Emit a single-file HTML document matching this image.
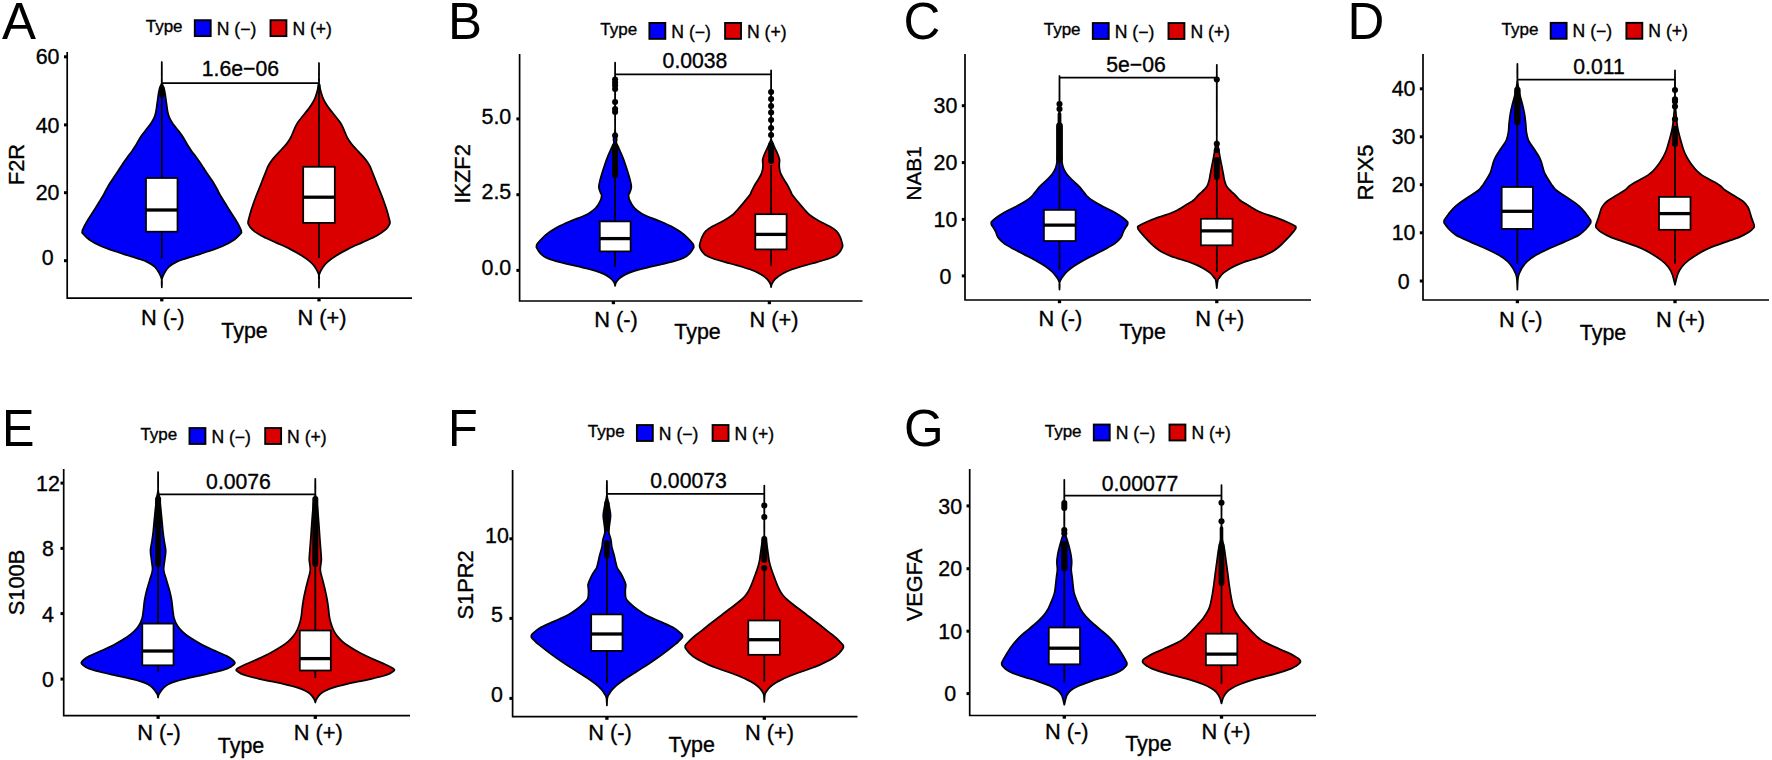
<!DOCTYPE html>
<html lang="en">
<head>
<meta charset="utf-8">
<title>Violin plots A-G</title>
<style>
html,body{margin:0;padding:0;background:#fff;}
body{width:1772px;height:760px;overflow:hidden;}
svg{display:block;font-family:"Liberation Sans", sans-serif;fill:#000;}
text{stroke:#000;stroke-width:0.35px;stroke-linejoin:round;}
</style>
</head>
<body>
<svg width="1772" height="760" viewBox="0 0 1772 760">
<rect x="0" y="0" width="1772" height="760" fill="#fff"/>
<g>
<text x="2" y="39" font-size="51" text-anchor="start" style="stroke-width:0">A</text>
<text x="145.7" y="32.35" font-size="17" text-anchor="start">Type</text>
<rect x="194.8" y="20.2" width="15.9" height="15.9" fill="#0000fa" stroke="#000" stroke-width="1.9"/>
<text x="216.7" y="34.75" font-size="17.6" text-anchor="start">N (−)</text>
<rect x="270.5" y="20.2" width="15.9" height="15.9" fill="#db0000" stroke="#000" stroke-width="1.9"/>
<text x="292.4" y="34.75" font-size="17.6" text-anchor="start">N (+)</text>
<path d="M161.8 62C161.81 64.17 161.84 71.5 161.85 75C161.86 78.5 161.51 80.83 161.85 83C162.19 85.17 163.35 86.23 163.88 88C164.42 89.77 164.65 91.12 165.06 93.6C165.47 96.08 165.92 99.8 166.37 102.9C166.82 106 167.23 109.72 167.75 112.2C168.27 114.68 168.68 115.93 169.51 117.8C170.34 119.67 171.48 121.53 172.73 123.4C173.98 125.27 175.59 127.13 177.01 129C178.43 130.87 179.96 132.73 181.27 134.6C182.59 136.47 183.76 138.33 184.9 140.2C186.04 142.07 186.94 143.93 188.1 145.8C189.26 147.67 190.51 149.55 191.84 151.4C193.17 153.25 194.7 155.05 196.06 156.9C197.42 158.75 198.74 160.63 200 162.5C201.26 164.37 202.41 166.23 203.63 168.1C204.85 169.97 205.62 171.18 207.3 173.7C208.98 176.22 212.06 180.57 213.72 183.2C215.39 185.83 216.1 187.32 217.29 189.5C218.49 191.68 218.93 192.97 220.89 196.3C222.85 199.63 226.3 205.12 229.05 209.5C231.8 213.88 235.39 219.15 237.4 222.6C239.41 226.05 240.45 228.67 241.09 230.2C241.72 231.73 241.23 231.27 241.2 231.8C241.17 232.33 242.07 232.08 240.92 233.4C239.76 234.72 237.38 237.55 234.28 239.7C231.18 241.85 226.2 244.5 222.33 246.3C218.46 248.1 215.51 248.97 211.04 250.5C206.57 252.03 199.75 254.15 195.5 255.5C191.25 256.85 188.78 257.5 185.54 258.6C182.3 259.7 178.87 260.73 176.08 262.1C173.29 263.47 170.76 264.98 168.81 266.8C166.86 268.62 165.55 270.88 164.39 273C163.23 275.12 162.28 277.12 161.85 279.5C161.42 281.88 161.81 286 161.8 287.3C161.79 286 162.18 281.88 161.75 279.5C161.32 277.12 160.37 275.12 159.21 273C158.05 270.88 156.74 268.62 154.79 266.8C152.84 264.98 150.31 263.47 147.52 262.1C144.73 260.73 141.3 259.7 138.06 258.6C134.82 257.5 132.35 256.85 128.1 255.5C123.85 254.15 117.03 252.03 112.56 250.5C108.09 248.97 105.14 248.1 101.27 246.3C97.4 244.5 92.42 241.85 89.32 239.7C86.22 237.55 83.84 234.72 82.68 233.4C81.53 232.08 82.43 232.33 82.4 231.8C82.37 231.27 81.88 231.73 82.51 230.2C83.15 228.67 84.19 226.05 86.2 222.6C88.21 219.15 91.8 213.88 94.55 209.5C97.3 205.12 100.75 199.63 102.71 196.3C104.67 192.97 105.12 191.68 106.31 189.5C107.5 187.32 108.22 185.83 109.88 183.2C111.55 180.57 114.62 176.22 116.3 173.7C117.98 171.18 118.75 169.97 119.97 168.1C121.19 166.23 122.34 164.37 123.6 162.5C124.86 160.63 126.18 158.75 127.54 156.9C128.9 155.05 130.43 153.25 131.76 151.4C133.09 149.55 134.34 147.67 135.5 145.8C136.66 143.93 137.56 142.07 138.7 140.2C139.84 138.33 141.02 136.47 142.33 134.6C143.65 132.73 145.17 130.87 146.59 129C148.01 127.13 149.62 125.27 150.87 123.4C152.12 121.53 153.26 119.67 154.09 117.8C154.92 115.93 155.33 114.68 155.85 112.2C156.37 109.72 156.78 106 157.23 102.9C157.68 99.8 158.13 96.08 158.54 93.6C158.96 91.12 159.19 89.77 159.72 88C160.25 86.23 161.41 85.17 161.75 83C162.09 80.83 161.74 78.5 161.75 75C161.76 71.5 161.79 64.17 161.8 62Z" fill="#0000fa" stroke="#000" stroke-width="1.75" stroke-linejoin="round"/>
<line x1="161.8" y1="84" x2="161.8" y2="258.4" stroke="#000" stroke-width="1.75"/>
<line x1="161.8" y1="88" x2="161.8" y2="95" stroke="#000" stroke-width="5" stroke-linecap="round"/>
<rect x="146" y="178" width="31.5" height="53.7" fill="#fff" stroke="#000" stroke-width="1.75"/>
<line x1="146" y1="210" x2="177.5" y2="210" stroke="#000" stroke-width="3.3"/>
<path d="M319 63C319.01 65 319.04 71.67 319.05 75C319.06 78.33 318.66 79.9 319.05 83C319.44 86.1 320.69 90.9 321.42 93.6C322.15 96.3 322.55 97.33 323.41 99.2C324.27 101.07 325.38 102.93 326.58 104.8C327.78 106.67 329.19 108.53 330.63 110.4C332.07 112.27 333.71 114.13 335.2 116C336.69 117.87 338.3 119.75 339.56 121.6C340.82 123.45 341.84 125.25 342.77 127.1C343.7 128.95 344.31 130.83 345.12 132.7C345.93 134.57 346.58 136.43 347.63 138.3C348.68 140.17 349.94 142.03 351.42 143.9C352.9 145.77 354.78 147.63 356.51 149.5C358.24 151.37 360.11 153.23 361.78 155.1C363.45 156.97 365.16 158.85 366.52 160.7C367.88 162.55 369.09 164.65 369.92 166.2C370.75 167.75 370.38 167.17 371.51 170C372.64 172.83 374.97 178.82 376.71 183.2C378.45 187.58 380.32 191.92 381.97 196.3C383.62 200.68 385.33 205.38 386.63 209.5C387.93 213.62 389.22 218.82 389.75 221C390.28 223.18 389.83 222.07 389.8 222.6C389.77 223.13 390.19 223.1 389.58 224.2C388.97 225.3 388.29 227.27 386.14 229.2C383.99 231.13 380.65 233.6 376.7 235.8C372.75 238 367.17 240.22 362.44 242.4C357.71 244.58 352.67 246.72 348.34 248.9C344.01 251.08 339.96 253.3 336.47 255.5C332.98 257.7 329.67 260.12 327.38 262.1C325.09 264.08 324.13 265.25 322.74 267.4C321.35 269.55 319.67 272.73 319.05 275C318.44 277.27 319.06 278.92 319.05 281C319.04 283.08 319.01 286.42 319 287.5C318.99 286.42 318.96 283.08 318.95 281C318.94 278.92 319.56 277.27 318.95 275C318.33 272.73 316.65 269.55 315.26 267.4C313.87 265.25 312.91 264.08 310.62 262.1C308.33 260.12 305.02 257.7 301.53 255.5C298.04 253.3 293.99 251.08 289.66 248.9C285.33 246.72 280.29 244.58 275.56 242.4C270.83 240.22 265.25 238 261.3 235.8C257.35 233.6 254.01 231.13 251.86 229.2C249.71 227.27 249.03 225.3 248.42 224.2C247.81 223.1 248.23 223.13 248.2 222.6C248.17 222.07 247.72 223.18 248.25 221C248.78 218.82 250.07 213.62 251.37 209.5C252.67 205.38 254.38 200.68 256.03 196.3C257.68 191.92 259.55 187.58 261.29 183.2C263.03 178.82 265.36 172.83 266.49 170C267.62 167.17 267.25 167.75 268.08 166.2C268.91 164.65 270.12 162.55 271.48 160.7C272.84 158.85 274.55 156.97 276.22 155.1C277.89 153.23 279.76 151.37 281.49 149.5C283.22 147.63 285.1 145.77 286.58 143.9C288.06 142.03 289.32 140.17 290.37 138.3C291.42 136.43 292.07 134.57 292.88 132.7C293.69 130.83 294.3 128.95 295.23 127.1C296.16 125.25 297.18 123.45 298.44 121.6C299.7 119.75 301.31 117.87 302.8 116C304.29 114.13 305.93 112.27 307.37 110.4C308.81 108.53 310.22 106.67 311.42 104.8C312.62 102.93 313.73 101.07 314.59 99.2C315.45 97.33 315.85 96.3 316.58 93.6C317.31 90.9 318.56 86.1 318.95 83C319.34 79.9 318.94 78.33 318.95 75C318.96 71.67 318.99 65 319 63Z" fill="#db0000" stroke="#000" stroke-width="1.75" stroke-linejoin="round"/>
<line x1="319" y1="84" x2="319" y2="258" stroke="#000" stroke-width="1.75"/>
<line x1="319" y1="85" x2="319" y2="88" stroke="#000" stroke-width="3" stroke-linecap="round"/>
<rect x="303.2" y="166.8" width="31.6" height="56.1" fill="#fff" stroke="#000" stroke-width="1.75"/>
<line x1="303.2" y1="197.2" x2="334.8" y2="197.2" stroke="#000" stroke-width="3.3"/>
<line x1="161.8" y1="83" x2="319" y2="83" stroke="#000" stroke-width="1.75"/>
<text x="240.4" y="75.5" font-size="21.2" text-anchor="middle">1.6e−06</text>
<path d="M67.2 52V298.2H412" fill="none" stroke="#000" stroke-width="1.7" stroke-linejoin="miter"/>
<line x1="64" y1="56.8" x2="67.2" y2="56.8" stroke="#000" stroke-width="3.0"/>
<text x="47.6" y="64.4" font-size="21.4" text-anchor="middle">60</text>
<line x1="64" y1="124.9" x2="67.2" y2="124.9" stroke="#000" stroke-width="3.0"/>
<text x="47.6" y="132.5" font-size="21.4" text-anchor="middle">40</text>
<line x1="64" y1="192.7" x2="67.2" y2="192.7" stroke="#000" stroke-width="3.0"/>
<text x="47.6" y="200.3" font-size="21.4" text-anchor="middle">20</text>
<line x1="64" y1="260.7" x2="67.2" y2="260.7" stroke="#000" stroke-width="3.0"/>
<text x="47.6" y="265.4" font-size="21.4" text-anchor="middle">0</text>
<line x1="161.8" y1="298.2" x2="161.8" y2="301.4" stroke="#000" stroke-width="3.3"/>
<text x="162.7" y="325.1" font-size="21.8" text-anchor="middle">N (-)</text>
<line x1="319" y1="298.2" x2="319" y2="301.4" stroke="#000" stroke-width="3.3"/>
<text x="322" y="325.1" font-size="21.8" text-anchor="middle">N (+)</text>
<text x="244.5" y="338" font-size="21.4" text-anchor="middle">Type</text>
<text transform="translate(24.1 164.5) rotate(-90)" font-size="21.8" text-anchor="middle">F2R</text>
</g>
<g>
<text x="448" y="39" font-size="51" text-anchor="start" style="stroke-width:0">B</text>
<text x="600.3" y="35.1" font-size="17" text-anchor="start">Type</text>
<rect x="649.4" y="22.95" width="15.9" height="15.9" fill="#0000fa" stroke="#000" stroke-width="1.9"/>
<text x="671.3" y="37.5" font-size="17.6" text-anchor="start">N (−)</text>
<rect x="725.1" y="22.95" width="15.9" height="15.9" fill="#db0000" stroke="#000" stroke-width="1.9"/>
<text x="747" y="37.5" font-size="17.6" text-anchor="start">N (+)</text>
<path d="M615.1 62.5C615.11 68.75 615.14 88.75 615.15 100C615.16 111.25 614.91 123.53 615.15 130C615.39 136.47 616.41 136.67 616.6 138.8C616.79 140.93 616.05 141.5 616.3 142.8C616.55 144.1 617.11 144.42 618.09 146.6C619.07 148.78 620.93 152.8 622.18 155.9C623.43 159 624.53 162.1 625.59 165.2C626.65 168.3 627.71 171.72 628.54 174.5C629.37 177.28 630.09 179.73 630.55 181.9C631.01 184.07 631.47 185.63 631.3 187.5C631.13 189.37 630.01 191.85 629.54 193.1C629.07 194.35 628.47 193.8 628.5 195C628.53 196.2 628.7 198.1 629.7 200.3C630.7 202.5 632.56 206.02 634.52 208.2C636.48 210.38 639.13 211.98 641.43 213.4C643.73 214.82 645.22 215.38 648.32 216.7C651.42 218.02 655.9 219.55 660.01 221.3C664.12 223.05 669.61 225.45 672.99 227.2C676.37 228.95 677.99 230.15 680.29 231.8C682.59 233.45 684.89 235.33 686.79 237.1C688.69 238.87 690.58 241.13 691.68 242.4C692.78 243.67 693.02 244.05 693.36 244.7C693.7 245.35 693.68 245.77 693.7 246.3C693.72 246.83 694.07 246.8 693.5 247.9C692.92 249 691.41 251.52 690.25 252.9C689.09 254.28 688.26 255.1 686.51 256.2C684.75 257.3 681.87 258.63 679.72 259.5C677.57 260.37 676.88 260.53 673.62 261.4C670.36 262.27 664.38 263.7 660.14 264.7C655.9 265.7 652.28 266.4 648.16 267.4C644.04 268.4 639.28 269.5 635.43 270.7C631.59 271.9 627.8 273.28 625.09 274.6C622.38 275.92 620.69 277.28 619.17 278.6C617.66 279.92 616.68 281.3 616 282.5C615.32 283.7 615.25 285.25 615.1 285.8C614.95 285.25 614.88 283.7 614.2 282.5C613.52 281.3 612.54 279.92 611.03 278.6C609.51 277.28 607.82 275.92 605.11 274.6C602.4 273.28 598.62 271.9 594.77 270.7C590.92 269.5 586.16 268.4 582.04 267.4C577.92 266.4 574.3 265.7 570.06 264.7C565.82 263.7 559.84 262.27 556.58 261.4C553.32 260.53 552.63 260.37 550.48 259.5C548.33 258.63 545.45 257.3 543.69 256.2C541.94 255.1 541.11 254.28 539.95 252.9C538.79 251.52 537.28 249 536.7 247.9C536.13 246.8 536.48 246.83 536.5 246.3C536.52 245.77 536.5 245.35 536.84 244.7C537.18 244.05 537.42 243.67 538.52 242.4C539.62 241.13 541.51 238.87 543.41 237.1C545.31 235.33 547.61 233.45 549.91 231.8C552.21 230.15 553.83 228.95 557.21 227.2C560.59 225.45 566.08 223.05 570.19 221.3C574.3 219.55 578.78 218.02 581.88 216.7C584.98 215.38 586.47 214.82 588.77 213.4C591.07 211.98 593.73 210.38 595.68 208.2C597.64 206.02 599.5 202.5 600.5 200.3C601.5 198.1 601.67 196.2 601.7 195C601.73 193.8 601.13 194.35 600.66 193.1C600.19 191.85 599.07 189.37 598.9 187.5C598.73 185.63 599.19 184.07 599.65 181.9C600.11 179.73 600.83 177.28 601.66 174.5C602.49 171.72 603.55 168.3 604.61 165.2C605.67 162.1 606.77 159 608.02 155.9C609.27 152.8 611.13 148.78 612.11 146.6C613.09 144.42 613.65 144.1 613.9 142.8C614.15 141.5 613.41 140.93 613.6 138.8C613.79 136.67 614.81 136.47 615.05 130C615.29 123.53 615.04 111.25 615.05 100C615.06 88.75 615.09 68.75 615.1 62.5Z" fill="#0000fa" stroke="#000" stroke-width="1.75" stroke-linejoin="round"/>
<line x1="615.1" y1="177" x2="615.1" y2="266.7" stroke="#000" stroke-width="1.75"/>
<circle cx="615.1" cy="79.6" r="3.05" fill="#000"/>
<circle cx="615.1" cy="82.5" r="3.05" fill="#000"/>
<circle cx="615.1" cy="85.5" r="3.05" fill="#000"/>
<circle cx="615.1" cy="89" r="3.05" fill="#000"/>
<circle cx="615.1" cy="102" r="3.05" fill="#000"/>
<circle cx="615.1" cy="109" r="3.05" fill="#000"/>
<circle cx="615.1" cy="112" r="3.05" fill="#000"/>
<circle cx="615.1" cy="135.5" r="3.05" fill="#000"/>
<line x1="615.1" y1="146" x2="615.1" y2="175" stroke="#000" stroke-width="6" stroke-linecap="round"/>
<rect x="599.8" y="221.4" width="30.8" height="30" fill="#fff" stroke="#000" stroke-width="1.75"/>
<line x1="599.8" y1="238.6" x2="630.6" y2="238.6" stroke="#000" stroke-width="3.3"/>
<path d="M771.1 70.4C771.11 75.33 771.14 90.07 771.15 100C771.16 109.93 771.15 123.53 771.15 130C771.15 136.47 770.9 136.67 771.15 138.8C771.4 140.93 771.99 141.2 772.63 142.8C773.27 144.4 774.19 146.53 775.02 148.4C775.85 150.27 776.88 152.13 777.63 154C778.38 155.87 779.24 157.73 779.5 159.6C779.76 161.47 779.14 163.33 779.2 165.2C779.26 167.07 779.52 169.25 779.84 170.8C780.16 172.35 780.42 172.97 781.15 174.5C781.88 176.03 783.12 178.13 784.23 180C785.34 181.87 786.74 183.83 787.8 185.7C788.86 187.57 789.84 189.65 790.6 191.2C791.36 192.75 791.19 193.27 792.38 195C793.57 196.73 795.72 199.18 797.74 201.6C799.76 204.02 802.53 207.32 804.48 209.5C806.43 211.68 807.1 212.83 809.46 214.7C811.82 216.57 815.2 218.72 818.62 220.7C822.04 222.68 827.01 224.85 829.99 226.6C832.97 228.35 834.79 229.45 836.5 231.2C838.21 232.95 839.25 234.95 840.24 237.1C841.23 239.25 842.05 242.67 842.42 244.1C842.8 245.53 842.52 245.17 842.5 245.7C842.48 246.23 842.72 246.32 842.33 247.3C841.93 248.28 841.07 250.33 840.14 251.6C839.21 252.87 838.49 253.8 836.77 254.9C835.05 256 833.07 257 829.81 258.2C826.56 259.4 821.37 260.9 817.24 262.1C813.12 263.3 809.2 264.2 805.06 265.4C800.92 266.6 796.26 267.88 792.42 269.3C788.58 270.72 784.91 272.25 782.02 273.9C779.13 275.55 776.77 277.55 775.08 279.2C773.39 280.85 772.56 282.48 771.9 283.8C771.24 285.12 771.23 286.55 771.1 287.1C770.97 286.55 770.96 285.12 770.3 283.8C769.64 282.48 768.81 280.85 767.12 279.2C765.43 277.55 763.07 275.55 760.18 273.9C757.29 272.25 753.62 270.72 749.78 269.3C745.94 267.88 741.28 266.6 737.14 265.4C733 264.2 729.09 263.3 724.96 262.1C720.84 260.9 715.64 259.4 712.39 258.2C709.13 257 707.15 256 705.43 254.9C703.71 253.8 702.99 252.87 702.06 251.6C701.13 250.33 700.27 248.28 699.87 247.3C699.48 246.32 699.72 246.23 699.7 245.7C699.68 245.17 699.4 245.53 699.78 244.1C700.15 242.67 700.97 239.25 701.96 237.1C702.95 234.95 703.99 232.95 705.7 231.2C707.41 229.45 709.23 228.35 712.21 226.6C715.19 224.85 720.16 222.68 723.58 220.7C727 218.72 730.38 216.57 732.74 214.7C735.1 212.83 735.77 211.68 737.72 209.5C739.67 207.32 742.44 204.02 744.46 201.6C746.48 199.18 748.63 196.73 749.82 195C751.01 193.27 750.84 192.75 751.6 191.2C752.36 189.65 753.34 187.57 754.4 185.7C755.46 183.83 756.86 181.87 757.97 180C759.08 178.13 760.32 176.03 761.05 174.5C761.78 172.97 762.04 172.35 762.36 170.8C762.68 169.25 762.94 167.07 763 165.2C763.06 163.33 762.44 161.47 762.7 159.6C762.96 157.73 763.82 155.87 764.57 154C765.32 152.13 766.35 150.27 767.18 148.4C768.01 146.53 768.93 144.4 769.57 142.8C770.22 141.2 770.8 140.93 771.05 138.8C771.3 136.67 771.05 136.47 771.05 130C771.05 123.53 771.04 109.93 771.05 100C771.06 90.07 771.09 75.33 771.1 70.4Z" fill="#db0000" stroke="#000" stroke-width="1.75" stroke-linejoin="round"/>
<line x1="771.1" y1="165" x2="771.1" y2="265.8" stroke="#000" stroke-width="1.75"/>
<circle cx="771.1" cy="92" r="3.05" fill="#000"/>
<circle cx="771.1" cy="99" r="3.05" fill="#000"/>
<circle cx="771.1" cy="106" r="3.05" fill="#000"/>
<circle cx="771.1" cy="112.5" r="3.05" fill="#000"/>
<circle cx="771.1" cy="120" r="3.05" fill="#000"/>
<circle cx="771.1" cy="128" r="3.05" fill="#000"/>
<circle cx="771.1" cy="135" r="3.05" fill="#000"/>
<line x1="771.1" y1="145" x2="771.1" y2="161" stroke="#000" stroke-width="6" stroke-linecap="round"/>
<rect x="755.3" y="214.2" width="31.3" height="35.2" fill="#fff" stroke="#000" stroke-width="1.75"/>
<line x1="755.3" y1="234.4" x2="786.6" y2="234.4" stroke="#000" stroke-width="3.3"/>
<line x1="615.1" y1="74.3" x2="771.1" y2="74.3" stroke="#000" stroke-width="1.75"/>
<text x="695" y="68.3" font-size="21.2" text-anchor="middle">0.0038</text>
<path d="M519.6 54V301H862.5" fill="none" stroke="#000" stroke-width="1.7" stroke-linejoin="miter"/>
<line x1="516.4" y1="118.9" x2="519.6" y2="118.9" stroke="#000" stroke-width="3.0"/>
<text x="496.4" y="123.5" font-size="21.4" text-anchor="middle">5.0</text>
<line x1="516.4" y1="194.7" x2="519.6" y2="194.7" stroke="#000" stroke-width="3.0"/>
<text x="496.4" y="199.3" font-size="21.4" text-anchor="middle">2.5</text>
<line x1="516.4" y1="270.4" x2="519.6" y2="270.4" stroke="#000" stroke-width="3.0"/>
<text x="496.4" y="275" font-size="21.4" text-anchor="middle">0.0</text>
<line x1="613.4" y1="301" x2="613.4" y2="304.2" stroke="#000" stroke-width="3.3"/>
<text x="616" y="327" font-size="21.8" text-anchor="middle">N (-)</text>
<line x1="769.4" y1="301" x2="769.4" y2="304.2" stroke="#000" stroke-width="3.3"/>
<text x="774.1" y="327" font-size="21.8" text-anchor="middle">N (+)</text>
<text x="697.5" y="339.2" font-size="21.4" text-anchor="middle">Type</text>
<text transform="translate(470.2 173.9) rotate(-90)" font-size="21.8" text-anchor="middle">IKZF2</text>
</g>
<g>
<text x="903.6" y="39" font-size="51" text-anchor="start" style="stroke-width:0">C</text>
<text x="1043.7" y="35.2" font-size="17" text-anchor="start">Type</text>
<rect x="1092.8" y="23.05" width="15.9" height="15.9" fill="#0000fa" stroke="#000" stroke-width="1.9"/>
<text x="1114.7" y="37.6" font-size="17.6" text-anchor="start">N (−)</text>
<rect x="1168.5" y="23.05" width="15.9" height="15.9" fill="#db0000" stroke="#000" stroke-width="1.9"/>
<text x="1190.4" y="37.6" font-size="17.6" text-anchor="start">N (+)</text>
<path d="M1059.5 76C1059.51 80 1059.54 91 1059.55 100C1059.56 109 1059.24 120.83 1059.55 130C1059.86 139.17 1060.98 149.45 1061.42 155C1061.87 160.55 1061.83 160.98 1062.22 163.3C1062.61 165.62 1062.94 167.03 1063.75 168.9C1064.56 170.77 1065.66 172.65 1067.09 174.5C1068.52 176.35 1070.46 178.13 1072.33 180C1074.2 181.87 1076.53 183.83 1078.33 185.7C1080.13 187.57 1081.66 189.48 1083.11 191.2C1084.55 192.92 1085.43 194.43 1087 196C1088.57 197.57 1089.97 198.9 1092.54 200.6C1095.11 202.3 1098.92 204.33 1102.42 206.2C1105.92 208.07 1110.24 209.95 1113.53 211.8C1116.82 213.65 1119.87 215.65 1122.17 217.3C1124.47 218.95 1126.39 220.7 1127.31 221.7C1128.23 222.7 1127.68 222.77 1127.7 223.3C1127.72 223.83 1127.89 224.03 1127.45 224.9C1127 225.77 1125.74 227.28 1125.02 228.5C1124.3 229.72 1123.86 230.65 1123.14 232.2C1122.43 233.75 1122.08 235.93 1120.73 237.8C1119.38 239.67 1117.57 241.53 1115.03 243.4C1112.49 245.27 1108.93 247.13 1105.52 249C1102.11 250.87 1098.2 252.73 1094.58 254.6C1090.96 256.47 1087.17 258.33 1083.82 260.2C1080.47 262.07 1077.27 263.93 1074.5 265.8C1071.73 267.67 1069.21 269.55 1067.21 271.4C1065.21 273.25 1063.77 275.05 1062.49 276.9C1061.21 278.75 1060.05 280.38 1059.55 282.5C1059.05 284.62 1059.51 288.42 1059.5 289.6C1059.49 288.42 1059.95 284.62 1059.45 282.5C1058.95 280.38 1057.79 278.75 1056.51 276.9C1055.23 275.05 1053.79 273.25 1051.79 271.4C1049.79 269.55 1047.27 267.67 1044.5 265.8C1041.73 263.93 1038.53 262.07 1035.18 260.2C1031.83 258.33 1028.04 256.47 1024.42 254.6C1020.8 252.73 1016.89 250.87 1013.48 249C1010.07 247.13 1006.5 245.27 1003.97 243.4C1001.44 241.53 999.62 239.67 998.27 237.8C996.92 235.93 996.58 233.75 995.86 232.2C995.14 230.65 994.7 229.72 993.98 228.5C993.26 227.28 992 225.77 991.55 224.9C991.11 224.03 991.28 223.83 991.3 223.3C991.32 222.77 990.77 222.7 991.69 221.7C992.61 220.7 994.53 218.95 996.83 217.3C999.13 215.65 1002.18 213.65 1005.47 211.8C1008.76 209.95 1013.08 208.07 1016.58 206.2C1020.08 204.33 1023.89 202.3 1026.46 200.6C1029.03 198.9 1030.43 197.57 1032 196C1033.57 194.43 1034.45 192.92 1035.89 191.2C1037.34 189.48 1038.87 187.57 1040.67 185.7C1042.47 183.83 1044.8 181.87 1046.67 180C1048.54 178.13 1050.48 176.35 1051.91 174.5C1053.34 172.65 1054.44 170.77 1055.25 168.9C1056.06 167.03 1056.39 165.62 1056.78 163.3C1057.17 160.98 1057.13 160.55 1057.58 155C1058.02 149.45 1059.14 139.17 1059.45 130C1059.76 120.83 1059.44 109 1059.45 100C1059.46 91 1059.49 80 1059.5 76Z" fill="#0000fa" stroke="#000" stroke-width="1.75" stroke-linejoin="round"/>
<line x1="1059.5" y1="160" x2="1059.5" y2="270.4" stroke="#000" stroke-width="1.75"/>
<circle cx="1059.5" cy="104" r="3.05" fill="#000"/>
<circle cx="1059.5" cy="109" r="3.05" fill="#000"/>
<line x1="1059.5" y1="114" x2="1059.5" y2="126" stroke="#000" stroke-width="3.8" stroke-linecap="round"/>
<line x1="1059.5" y1="126" x2="1059.5" y2="159" stroke="#000" stroke-width="6.8" stroke-linecap="round"/>
<rect x="1043.9" y="209.9" width="31.7" height="31.1" fill="#fff" stroke="#000" stroke-width="1.75"/>
<line x1="1043.9" y1="225.2" x2="1075.6" y2="225.2" stroke="#000" stroke-width="3.3"/>
<path d="M1216.8 64.8C1216.81 70.67 1216.84 87.47 1216.85 100C1216.86 112.53 1216.63 132.23 1216.85 140C1217.07 147.77 1217.68 143.95 1218.16 146.6C1218.64 149.25 1219.18 152.8 1219.75 155.9C1220.32 159 1220.97 162.1 1221.58 165.2C1222.18 168.3 1222.91 172.03 1223.38 174.5C1223.84 176.97 1223.89 178.13 1224.37 180C1224.85 181.87 1225.48 184.13 1226.27 185.7C1227.06 187.27 1227.96 188.17 1229.11 189.4C1230.26 190.63 1231.9 191.87 1233.19 193.1C1234.48 194.33 1235.78 195.65 1236.86 196.8C1237.94 197.95 1238.73 199.13 1239.69 200C1240.65 200.87 1241.07 201.02 1242.65 202C1244.23 202.98 1246.81 204.48 1249.16 205.9C1251.51 207.32 1254.43 209.28 1256.76 210.5C1259.09 211.72 1259.98 212.05 1263.11 213.2C1266.24 214.35 1271.52 215.93 1275.52 217.4C1279.52 218.87 1283.84 220.57 1287.1 222C1290.36 223.43 1293.64 225.07 1295.09 226C1296.54 226.93 1295.74 227.07 1295.8 227.6C1295.86 228.13 1295.81 228.53 1295.44 229.2C1295.07 229.87 1294.65 230.33 1293.58 231.6C1292.51 232.87 1290.96 234.73 1289.04 236.8C1287.12 238.87 1284.41 241.8 1282.06 244C1279.7 246.2 1277.06 248.45 1274.91 250C1272.76 251.55 1271.35 252.2 1269.14 253.3C1266.93 254.4 1263.78 255.77 1261.66 256.6C1259.53 257.43 1258.45 257.65 1256.39 258.3C1254.33 258.95 1251.51 259.8 1249.32 260.5C1247.12 261.2 1245.34 261.73 1243.22 262.5C1241.1 263.27 1238.81 264.12 1236.62 265.1C1234.43 266.08 1232.21 267.13 1230.08 268.4C1227.95 269.67 1225.62 271.17 1223.84 272.7C1222.06 274.23 1220.42 276.33 1219.41 277.6C1218.4 278.87 1218.23 278.53 1217.8 280.3C1217.37 282.07 1216.97 286.88 1216.8 288.2C1216.63 286.88 1216.23 282.07 1215.8 280.3C1215.37 278.53 1215.2 278.87 1214.19 277.6C1213.18 276.33 1211.54 274.23 1209.76 272.7C1207.98 271.17 1205.65 269.67 1203.52 268.4C1201.39 267.13 1199.17 266.08 1196.98 265.1C1194.79 264.12 1192.5 263.27 1190.38 262.5C1188.26 261.73 1186.47 261.2 1184.28 260.5C1182.09 259.8 1179.27 258.95 1177.21 258.3C1175.15 257.65 1174.07 257.43 1171.94 256.6C1169.82 255.77 1166.67 254.4 1164.46 253.3C1162.25 252.2 1160.84 251.55 1158.69 250C1156.54 248.45 1153.89 246.2 1151.54 244C1149.18 241.8 1146.48 238.87 1144.56 236.8C1142.64 234.73 1141.09 232.87 1140.02 231.6C1138.95 230.33 1138.53 229.87 1138.16 229.2C1137.79 228.53 1137.74 228.13 1137.8 227.6C1137.86 227.07 1137.06 226.93 1138.51 226C1139.96 225.07 1143.24 223.43 1146.5 222C1149.76 220.57 1154.08 218.87 1158.08 217.4C1162.08 215.93 1167.36 214.35 1170.49 213.2C1173.62 212.05 1174.51 211.72 1176.84 210.5C1179.16 209.28 1182.09 207.32 1184.44 205.9C1186.79 204.48 1189.37 202.98 1190.95 202C1192.53 201.02 1192.94 200.87 1193.91 200C1194.87 199.13 1195.66 197.95 1196.74 196.8C1197.82 195.65 1199.12 194.33 1200.41 193.1C1201.7 191.87 1203.34 190.63 1204.49 189.4C1205.64 188.17 1206.54 187.27 1207.33 185.7C1208.12 184.13 1208.75 181.87 1209.23 180C1209.71 178.13 1209.76 176.97 1210.22 174.5C1210.68 172.03 1211.41 168.3 1212.02 165.2C1212.62 162.1 1213.28 159 1213.85 155.9C1214.42 152.8 1214.96 149.25 1215.44 146.6C1215.92 143.95 1216.53 147.77 1216.75 140C1216.97 132.23 1216.74 112.53 1216.75 100C1216.76 87.47 1216.79 70.67 1216.8 64.8Z" fill="#db0000" stroke="#000" stroke-width="1.75" stroke-linejoin="round"/>
<line x1="1216.8" y1="175" x2="1216.8" y2="272" stroke="#000" stroke-width="1.75"/>
<circle cx="1216.8" cy="79.6" r="3.05" fill="#000"/>
<circle cx="1216.8" cy="143.8" r="3.05" fill="#000"/>
<circle cx="1216.8" cy="150.3" r="3.05" fill="#000"/>
<line x1="1216.8" y1="160" x2="1216.8" y2="177" stroke="#000" stroke-width="6" stroke-linecap="round"/>
<rect x="1200.9" y="218.8" width="31.6" height="26.5" fill="#fff" stroke="#000" stroke-width="1.75"/>
<line x1="1200.9" y1="230.8" x2="1232.5" y2="230.8" stroke="#000" stroke-width="3.3"/>
<line x1="1059.5" y1="77.5" x2="1216.8" y2="77.5" stroke="#000" stroke-width="1.75"/>
<text x="1136" y="72.4" font-size="21.2" text-anchor="middle">5e−06</text>
<path d="M965 54V300H1311" fill="none" stroke="#000" stroke-width="1.7" stroke-linejoin="miter"/>
<line x1="961.8" y1="105.7" x2="965" y2="105.7" stroke="#000" stroke-width="3.0"/>
<text x="945.5" y="113.3" font-size="21.4" text-anchor="middle">30</text>
<line x1="961.8" y1="162.6" x2="965" y2="162.6" stroke="#000" stroke-width="3.0"/>
<text x="945.5" y="170.2" font-size="21.4" text-anchor="middle">20</text>
<line x1="961.8" y1="219.4" x2="965" y2="219.4" stroke="#000" stroke-width="3.0"/>
<text x="945.5" y="227" font-size="21.4" text-anchor="middle">10</text>
<line x1="961.8" y1="275.9" x2="965" y2="275.9" stroke="#000" stroke-width="3.0"/>
<text x="945.5" y="283.5" font-size="21.4" text-anchor="middle">0</text>
<line x1="1059.5" y1="300" x2="1059.5" y2="303.2" stroke="#000" stroke-width="3.3"/>
<text x="1060.4" y="325.6" font-size="21.8" text-anchor="middle">N (-)</text>
<line x1="1216.8" y1="300" x2="1216.8" y2="303.2" stroke="#000" stroke-width="3.3"/>
<text x="1219.8" y="325.6" font-size="21.8" text-anchor="middle">N (+)</text>
<text x="1142.7" y="338.7" font-size="21.4" text-anchor="middle">Type</text>
<text transform="translate(921.2 173.4) rotate(-90)" font-size="20.8" text-anchor="middle">NAB1</text>
</g>
<g>
<text x="1347.4" y="39" font-size="51" text-anchor="start" style="stroke-width:0">D</text>
<text x="1501.6" y="35" font-size="17" text-anchor="start">Type</text>
<rect x="1550.7" y="22.85" width="15.9" height="15.9" fill="#0000fa" stroke="#000" stroke-width="1.9"/>
<text x="1572.6" y="37.4" font-size="17.6" text-anchor="start">N (−)</text>
<rect x="1626.4" y="22.85" width="15.9" height="15.9" fill="#db0000" stroke="#000" stroke-width="1.9"/>
<text x="1648.3" y="37.4" font-size="17.6" text-anchor="start">N (+)</text>
<path d="M1517.4 63.8C1517.41 66.5 1517.14 75.17 1517.45 80C1517.76 84.83 1518.88 90.3 1519.28 92.8C1519.68 95.3 1519.33 93.08 1519.85 95C1520.37 96.92 1521.62 101.2 1522.38 104.3C1523.14 107.4 1523.89 110.5 1524.44 113.6C1524.99 116.7 1525.32 119.8 1525.65 122.9C1525.98 126 1525.98 129.4 1526.41 132.2C1526.85 135 1527.4 137.52 1528.26 139.7C1529.12 141.88 1530.37 143.43 1531.57 145.3C1532.77 147.17 1534.22 149.05 1535.44 150.9C1536.66 152.75 1537.89 154.55 1538.88 156.4C1539.87 158.25 1540.69 160.13 1541.36 162C1542.03 163.87 1542.35 165.73 1542.9 167.6C1543.45 169.47 1543.83 171.33 1544.66 173.2C1545.49 175.07 1546.72 176.93 1547.86 178.8C1549 180.67 1550.16 182.53 1551.52 184.4C1552.88 186.27 1553.61 187.97 1556.01 190C1558.41 192.03 1562.12 193.97 1565.93 196.6C1569.75 199.23 1575.55 202.95 1578.9 205.8C1582.25 208.65 1584.11 211.33 1586.03 213.7C1587.95 216.07 1589.65 218.68 1590.41 220C1591.17 221.32 1590.6 221.07 1590.6 221.6C1590.6 222.13 1591.23 221.88 1590.39 223.2C1589.55 224.52 1587.39 227.58 1585.55 229.5C1583.71 231.42 1581.43 233.28 1579.38 234.7C1577.33 236.12 1576.48 236.47 1573.25 238C1570.02 239.53 1564.24 242.03 1559.99 243.9C1555.74 245.77 1551.93 247.22 1547.75 249.2C1543.57 251.18 1538.36 253.72 1534.89 255.8C1531.43 257.88 1529.2 259.52 1526.96 261.7C1524.72 263.88 1522.93 266.38 1521.47 268.9C1520.01 271.42 1518.88 273.35 1518.2 276.8C1517.52 280.25 1517.53 287.47 1517.4 289.6C1517.27 287.47 1517.28 280.25 1516.6 276.8C1515.92 273.35 1514.79 271.42 1513.33 268.9C1511.87 266.38 1510.08 263.88 1507.84 261.7C1505.6 259.52 1503.38 257.88 1499.91 255.8C1496.45 253.72 1491.23 251.18 1487.05 249.2C1482.87 247.22 1479.06 245.77 1474.81 243.9C1470.56 242.03 1464.78 239.53 1461.55 238C1458.32 236.47 1457.47 236.12 1455.42 234.7C1453.37 233.28 1451.09 231.42 1449.25 229.5C1447.41 227.58 1445.25 224.52 1444.41 223.2C1443.57 221.88 1444.2 222.13 1444.2 221.6C1444.2 221.07 1443.63 221.32 1444.39 220C1445.15 218.68 1446.85 216.07 1448.77 213.7C1450.69 211.33 1452.55 208.65 1455.9 205.8C1459.25 202.95 1465.06 199.23 1468.87 196.6C1472.69 193.97 1476.39 192.03 1478.79 190C1481.19 187.97 1481.92 186.27 1483.28 184.4C1484.64 182.53 1485.8 180.67 1486.94 178.8C1488.08 176.93 1489.31 175.07 1490.14 173.2C1490.97 171.33 1491.35 169.47 1491.9 167.6C1492.45 165.73 1492.77 163.87 1493.44 162C1494.11 160.13 1494.93 158.25 1495.92 156.4C1496.91 154.55 1498.14 152.75 1499.36 150.9C1500.58 149.05 1502.03 147.17 1503.23 145.3C1504.43 143.43 1505.68 141.88 1506.54 139.7C1507.4 137.52 1507.96 135 1508.39 132.2C1508.83 129.4 1508.82 126 1509.15 122.9C1509.48 119.8 1509.82 116.7 1510.36 113.6C1510.91 110.5 1511.66 107.4 1512.42 104.3C1513.18 101.2 1514.43 96.92 1514.95 95C1515.47 93.08 1515.12 95.3 1515.52 92.8C1515.92 90.3 1517.04 84.83 1517.35 80C1517.66 75.17 1517.39 66.5 1517.4 63.8Z" fill="#0000fa" stroke="#000" stroke-width="1.75" stroke-linejoin="round"/>
<line x1="1517.4" y1="120" x2="1517.4" y2="263.8" stroke="#000" stroke-width="1.75"/>
<line x1="1517.4" y1="90" x2="1517.4" y2="122" stroke="#000" stroke-width="6.5" stroke-linecap="round"/>
<rect x="1501.7" y="187" width="31.2" height="41.9" fill="#fff" stroke="#000" stroke-width="1.75"/>
<line x1="1501.7" y1="211.3" x2="1532.9" y2="211.3" stroke="#000" stroke-width="3.3"/>
<path d="M1675 70.4C1675.01 75.33 1674.73 91.25 1675.05 100C1675.37 108.75 1676.32 117.53 1676.91 122.9C1677.5 128.27 1677.88 129.08 1678.57 132.2C1679.26 135.32 1680.26 138.8 1681.04 141.6C1681.82 144.4 1682.48 146.83 1683.24 149C1684 151.17 1684.67 152.73 1685.58 154.6C1686.49 156.47 1687.55 158.33 1688.71 160.2C1689.87 162.07 1691.07 163.93 1692.52 165.8C1693.97 167.67 1695.82 169.85 1697.4 171.4C1698.98 172.95 1700.2 173.87 1702.02 175.1C1703.84 176.33 1706.09 177.57 1708.32 178.8C1710.55 180.03 1713.29 181.27 1715.38 182.5C1717.48 183.73 1719.31 184.95 1720.89 186.2C1722.47 187.45 1722.76 188.48 1724.85 190C1726.94 191.52 1730.44 193.43 1733.45 195.3C1736.46 197.17 1740.48 199.23 1742.9 201.2C1745.33 203.17 1746.76 205.02 1748 207.1C1749.24 209.18 1749.68 211.73 1750.34 213.7C1751 215.67 1751.34 217.08 1751.95 218.9C1752.56 220.72 1753.64 223.38 1754 224.6C1754.36 225.82 1754.14 225.67 1754.1 226.2C1754.06 226.73 1754.57 226.82 1753.73 227.8C1752.89 228.78 1751.52 230.5 1749.05 232.1C1746.58 233.7 1742.49 235.87 1738.91 237.4C1735.33 238.93 1731.62 239.88 1727.58 241.3C1723.53 242.72 1718.93 244.15 1714.64 245.9C1710.35 247.65 1706.22 249.38 1701.86 251.8C1697.5 254.22 1691.85 257.87 1688.5 260.4C1685.15 262.93 1683.54 264.7 1681.75 267C1679.96 269.3 1678.89 271.25 1677.77 274.2C1676.64 277.15 1675.46 282.95 1675 284.7C1674.54 282.95 1673.36 277.15 1672.23 274.2C1671.11 271.25 1670.04 269.3 1668.25 267C1666.46 264.7 1664.85 262.93 1661.5 260.4C1658.15 257.87 1652.5 254.22 1648.14 251.8C1643.78 249.38 1639.65 247.65 1635.36 245.9C1631.07 244.15 1626.47 242.72 1622.42 241.3C1618.38 239.88 1614.67 238.93 1611.09 237.4C1607.51 235.87 1603.42 233.7 1600.95 232.1C1598.48 230.5 1597.11 228.78 1596.27 227.8C1595.43 226.82 1595.94 226.73 1595.9 226.2C1595.86 225.67 1595.64 225.82 1596 224.6C1596.36 223.38 1597.44 220.72 1598.05 218.9C1598.66 217.08 1599 215.67 1599.66 213.7C1600.32 211.73 1600.76 209.18 1602 207.1C1603.24 205.02 1604.67 203.17 1607.1 201.2C1609.52 199.23 1613.54 197.17 1616.55 195.3C1619.56 193.43 1623.06 191.52 1625.15 190C1627.24 188.48 1627.53 187.45 1629.11 186.2C1630.69 184.95 1632.52 183.73 1634.62 182.5C1636.71 181.27 1639.45 180.03 1641.68 178.8C1643.91 177.57 1646.16 176.33 1647.98 175.1C1649.8 173.87 1651.02 172.95 1652.6 171.4C1654.18 169.85 1656.03 167.67 1657.48 165.8C1658.93 163.93 1660.13 162.07 1661.29 160.2C1662.45 158.33 1663.51 156.47 1664.42 154.6C1665.33 152.73 1666 151.17 1666.76 149C1667.52 146.83 1668.18 144.4 1668.96 141.6C1669.74 138.8 1670.74 135.32 1671.43 132.2C1672.12 129.08 1672.5 128.27 1673.09 122.9C1673.68 117.53 1674.63 108.75 1674.95 100C1675.27 91.25 1674.99 75.33 1675 70.4Z" fill="#db0000" stroke="#000" stroke-width="1.75" stroke-linejoin="round"/>
<line x1="1675" y1="140" x2="1675" y2="263.8" stroke="#000" stroke-width="1.75"/>
<circle cx="1675" cy="90" r="3.05" fill="#000"/>
<circle cx="1675" cy="99.3" r="3.05" fill="#000"/>
<circle cx="1675" cy="101.5" r="3.05" fill="#000"/>
<circle cx="1675" cy="106.5" r="3.05" fill="#000"/>
<circle cx="1675" cy="119.2" r="3.05" fill="#000"/>
<circle cx="1675" cy="143.8" r="3.05" fill="#000"/>
<line x1="1675" y1="128.5" x2="1675" y2="144" stroke="#000" stroke-width="5.5" stroke-linecap="round"/>
<rect x="1659" y="196.9" width="31.5" height="32.9" fill="#fff" stroke="#000" stroke-width="1.75"/>
<line x1="1659" y1="213.6" x2="1690.5" y2="213.6" stroke="#000" stroke-width="3.3"/>
<line x1="1517.4" y1="79.7" x2="1675" y2="79.7" stroke="#000" stroke-width="1.75"/>
<text x="1599" y="74.4" font-size="21.2" text-anchor="middle">0.011</text>
<path d="M1423 54V300H1769" fill="none" stroke="#000" stroke-width="1.7" stroke-linejoin="miter"/>
<line x1="1419.8" y1="88.8" x2="1423" y2="88.8" stroke="#000" stroke-width="3.0"/>
<text x="1403.6" y="96.4" font-size="21.4" text-anchor="middle">40</text>
<line x1="1419.8" y1="136.8" x2="1423" y2="136.8" stroke="#000" stroke-width="3.0"/>
<text x="1403.6" y="144.4" font-size="21.4" text-anchor="middle">30</text>
<line x1="1419.8" y1="184.7" x2="1423" y2="184.7" stroke="#000" stroke-width="3.0"/>
<text x="1403.6" y="192.3" font-size="21.4" text-anchor="middle">20</text>
<line x1="1419.8" y1="232.8" x2="1423" y2="232.8" stroke="#000" stroke-width="3.0"/>
<text x="1403.6" y="240.4" font-size="21.4" text-anchor="middle">10</text>
<line x1="1419.8" y1="281" x2="1423" y2="281" stroke="#000" stroke-width="3.0"/>
<text x="1403.6" y="288.6" font-size="21.4" text-anchor="middle">0</text>
<line x1="1517.4" y1="300" x2="1517.4" y2="303.2" stroke="#000" stroke-width="3.3"/>
<text x="1520.7" y="326.9" font-size="21.8" text-anchor="middle">N (-)</text>
<line x1="1675" y1="300" x2="1675" y2="303.2" stroke="#000" stroke-width="3.3"/>
<text x="1680.4" y="326.9" font-size="21.8" text-anchor="middle">N (+)</text>
<text x="1603" y="340" font-size="21.4" text-anchor="middle">Type</text>
<text transform="translate(1372.6 172.5) rotate(-90)" font-size="21.8" text-anchor="middle">RFX5</text>
</g>
<g>
<text transform="translate(2 445.5) scale(0.955 1)" font-size="51" style="stroke-width:0">E</text>
<text x="140.4" y="440.2" font-size="17" text-anchor="start">Type</text>
<rect x="189.5" y="428.05" width="15.9" height="15.9" fill="#0000fa" stroke="#000" stroke-width="1.9"/>
<text x="211.4" y="442.6" font-size="17.6" text-anchor="start">N (−)</text>
<rect x="265.2" y="428.05" width="15.9" height="15.9" fill="#db0000" stroke="#000" stroke-width="1.9"/>
<text x="287.1" y="442.6" font-size="17.6" text-anchor="start">N (+)</text>
<path d="M158.1 472.2C158.11 475.17 157.92 485.7 158.15 490C158.38 494.3 158.97 494 159.49 498C160.01 502 160.72 508.5 161.29 514C161.85 519.5 162.41 526.55 162.88 531C163.35 535.45 163.67 537.45 164.14 540.7C164.61 543.95 165.6 547.28 165.7 550.5C165.79 553.72 165.04 556.75 164.71 560C164.38 563.25 163.41 566.67 163.7 570C163.99 573.33 165.5 576.67 166.45 580C167.4 583.33 168.52 586.67 169.38 590C170.24 593.33 171.03 596.67 171.59 600C172.16 603.33 172.37 607.02 172.77 610C173.17 612.98 173.22 615.27 173.99 617.9C174.76 620.53 176 623.5 177.41 625.8C178.82 628.1 180.47 629.83 182.43 631.7C184.39 633.57 185.83 634.8 189.18 637C192.53 639.2 198.22 642.6 202.56 644.9C206.9 647.2 211.13 648.93 215.19 650.8C219.25 652.67 223.97 654.57 226.9 656.1C229.83 657.63 231.44 658.92 232.76 660C234.08 661.08 234.55 661.9 234.8 662.6C235.05 663.3 234.82 663.53 234.23 664.2C233.64 664.87 232.41 665.87 231.24 666.6C230.07 667.33 230.13 667.62 227.21 668.6C224.29 669.58 217.95 671.42 213.72 672.5C209.49 673.58 205.92 674.22 201.83 675.1C197.74 675.98 193.38 676.8 189.16 677.8C184.94 678.8 179.95 680.02 176.49 681.1C173.03 682.18 170.65 683.1 168.41 684.3C166.17 685.5 164.65 686.65 163.08 688.3C161.51 689.95 159.83 692.67 159 694.2C158.17 695.73 158.25 696.95 158.1 697.5C157.95 696.95 158.03 695.73 157.2 694.2C156.37 692.67 154.69 689.95 153.12 688.3C151.55 686.65 150.03 685.5 147.79 684.3C145.55 683.1 143.17 682.18 139.71 681.1C136.25 680.02 131.26 678.8 127.04 677.8C122.82 676.8 118.46 675.98 114.37 675.1C110.28 674.22 106.71 673.58 102.48 672.5C98.25 671.42 91.91 669.58 88.99 668.6C86.07 667.62 86.13 667.33 84.96 666.6C83.79 665.87 82.56 664.87 81.97 664.2C81.38 663.53 81.15 663.3 81.4 662.6C81.65 661.9 82.12 661.08 83.44 660C84.76 658.92 86.37 657.63 89.3 656.1C92.23 654.57 96.95 652.67 101.01 650.8C105.07 648.93 109.3 647.2 113.64 644.9C117.97 642.6 123.66 639.2 127.02 637C130.38 634.8 131.81 633.57 133.77 631.7C135.73 629.83 137.38 628.1 138.79 625.8C140.2 623.5 141.44 620.53 142.21 617.9C142.98 615.27 143.03 612.98 143.43 610C143.83 607.02 144.04 603.33 144.61 600C145.17 596.67 145.96 593.33 146.82 590C147.68 586.67 148.8 583.33 149.75 580C150.7 576.67 152.21 573.33 152.5 570C152.79 566.67 151.82 563.25 151.49 560C151.16 556.75 150.41 553.72 150.5 550.5C150.59 547.28 151.59 543.95 152.06 540.7C152.53 537.45 152.84 535.45 153.32 531C153.79 526.55 154.34 519.5 154.91 514C155.47 508.5 156.19 502 156.71 498C157.23 494 157.82 494.3 158.05 490C158.28 485.7 158.09 475.17 158.1 472.2Z" fill="#0000fa" stroke="#000" stroke-width="1.75" stroke-linejoin="round"/>
<line x1="158.1" y1="567" x2="158.1" y2="671.6" stroke="#000" stroke-width="1.75"/>
<line x1="158.1" y1="499" x2="158.1" y2="564" stroke="#000" stroke-width="6" stroke-linecap="round"/>
<rect x="142.3" y="623.6" width="31.2" height="41.7" fill="#fff" stroke="#000" stroke-width="1.75"/>
<line x1="142.3" y1="651" x2="173.5" y2="651" stroke="#000" stroke-width="3.3"/>
<path d="M315.3 478.8C315.31 481.33 315.04 489.72 315.35 494C315.66 498.28 316.63 500 317.17 504.5C317.71 509 318.19 515.58 318.61 521C319.03 526.42 319.35 532.08 319.71 537C320.07 541.92 320.51 546.67 320.77 550.5C321.04 554.33 321.38 556.75 321.3 560C321.22 563.25 320.08 566.67 320.3 570C320.52 573.33 321.83 576.67 322.63 580C323.43 583.33 324.36 586.67 325.12 590C325.88 593.33 326.61 596.67 327.19 600C327.77 603.33 328.29 607.5 328.61 610C328.93 612.5 328.82 613.07 329.12 615C329.42 616.93 329.73 619.18 330.41 621.6C331.09 624.02 332.07 627.08 333.21 629.5C334.35 631.92 335.74 634.13 337.25 636.1C338.76 638.07 340.26 639.55 342.26 641.3C344.26 643.05 346.4 644.73 349.26 646.6C352.12 648.47 355.45 650.42 359.4 652.5C363.35 654.58 368.7 657.13 372.96 659.1C377.22 661.07 381.85 662.88 384.94 664.3C388.03 665.72 389.97 666.72 391.53 667.6C393.09 668.48 393.96 669 394.3 669.6C394.64 670.2 394.33 670.53 393.55 671.2C392.77 671.87 391.09 672.88 389.63 673.6C388.17 674.32 387.78 674.63 384.77 675.5C381.76 676.37 375.85 677.82 371.59 678.8C367.33 679.78 363.4 680.52 359.23 681.4C355.06 682.28 350.77 683.1 346.56 684.1C342.35 685.1 337.49 686.3 333.97 687.4C330.45 688.5 327.67 689.62 325.43 690.7C323.19 691.78 322.03 692.48 320.52 693.9C319.02 695.32 317.27 697.77 316.4 699.2C315.53 700.63 315.48 701.95 315.3 702.5C315.12 701.95 315.07 700.63 314.2 699.2C313.33 697.77 311.58 695.32 310.08 693.9C308.57 692.48 307.41 691.78 305.17 690.7C302.93 689.62 300.15 688.5 296.63 687.4C293.11 686.3 288.25 685.1 284.04 684.1C279.83 683.1 275.54 682.28 271.37 681.4C267.2 680.52 263.27 679.78 259.01 678.8C254.75 677.82 248.84 676.37 245.83 675.5C242.82 674.63 242.43 674.32 240.97 673.6C239.51 672.88 237.83 671.87 237.05 671.2C236.27 670.53 235.96 670.2 236.3 669.6C236.64 669 237.51 668.48 239.07 667.6C240.63 666.72 242.57 665.72 245.66 664.3C248.76 662.88 253.38 661.07 257.64 659.1C261.9 657.13 267.25 654.58 271.2 652.5C275.15 650.42 278.48 648.47 281.34 646.6C284.2 644.73 286.34 643.05 288.34 641.3C290.34 639.55 291.84 638.07 293.35 636.1C294.86 634.13 296.25 631.92 297.39 629.5C298.53 627.08 299.51 624.02 300.19 621.6C300.87 619.18 301.18 616.93 301.48 615C301.78 613.07 301.67 612.5 301.99 610C302.31 607.5 302.83 603.33 303.41 600C303.99 596.67 304.72 593.33 305.48 590C306.24 586.67 307.17 583.33 307.97 580C308.77 576.67 310.08 573.33 310.3 570C310.52 566.67 309.38 563.25 309.3 560C309.22 556.75 309.56 554.33 309.83 550.5C310.09 546.67 310.53 541.92 310.89 537C311.25 532.08 311.57 526.42 311.99 521C312.41 515.58 312.89 509 313.43 504.5C313.97 500 314.94 498.28 315.25 494C315.56 489.72 315.29 481.33 315.3 478.8Z" fill="#db0000" stroke="#000" stroke-width="1.75" stroke-linejoin="round"/>
<line x1="315.3" y1="567" x2="315.3" y2="678" stroke="#000" stroke-width="1.75"/>
<line x1="315.3" y1="499" x2="315.3" y2="564" stroke="#000" stroke-width="6" stroke-linecap="round"/>
<rect x="299.8" y="630.5" width="31" height="40" fill="#fff" stroke="#000" stroke-width="1.75"/>
<line x1="299.8" y1="658.6" x2="330.8" y2="658.6" stroke="#000" stroke-width="3.3"/>
<line x1="158.1" y1="494.3" x2="315.3" y2="494.3" stroke="#000" stroke-width="1.75"/>
<text x="238.5" y="488.8" font-size="21.2" text-anchor="middle">0.0076</text>
<path d="M63.7 469V715.7H410" fill="none" stroke="#000" stroke-width="1.7" stroke-linejoin="miter"/>
<line x1="60.5" y1="483.1" x2="63.7" y2="483.1" stroke="#000" stroke-width="3.0"/>
<text x="48" y="491.1" font-size="21.4" text-anchor="middle">12</text>
<line x1="60.5" y1="548.4" x2="63.7" y2="548.4" stroke="#000" stroke-width="3.0"/>
<text x="48" y="556.4" font-size="21.4" text-anchor="middle">8</text>
<line x1="60.5" y1="613.6" x2="63.7" y2="613.6" stroke="#000" stroke-width="3.0"/>
<text x="48" y="621.6" font-size="21.4" text-anchor="middle">4</text>
<line x1="60.5" y1="679.1" x2="63.7" y2="679.1" stroke="#000" stroke-width="3.0"/>
<text x="48" y="687.1" font-size="21.4" text-anchor="middle">0</text>
<line x1="158.1" y1="715.7" x2="158.1" y2="718.9" stroke="#000" stroke-width="3.3"/>
<text x="159" y="739.9" font-size="21.8" text-anchor="middle">N (-)</text>
<line x1="315.3" y1="715.7" x2="315.3" y2="718.9" stroke="#000" stroke-width="3.3"/>
<text x="318.3" y="739.9" font-size="21.8" text-anchor="middle">N (+)</text>
<text x="241" y="752.5" font-size="21.4" text-anchor="middle">Type</text>
<text transform="translate(24 582.5) rotate(-90)" font-size="21.8" text-anchor="middle">S100B</text>
</g>
<g>
<text transform="translate(448 445.5) scale(0.955 1)" font-size="51" style="stroke-width:0">F</text>
<text x="587.8" y="437.2" font-size="17" text-anchor="start">Type</text>
<rect x="636.9" y="425.05" width="15.9" height="15.9" fill="#0000fa" stroke="#000" stroke-width="1.9"/>
<text x="658.8" y="439.6" font-size="17.6" text-anchor="start">N (−)</text>
<rect x="712.6" y="425.05" width="15.9" height="15.9" fill="#db0000" stroke="#000" stroke-width="1.9"/>
<text x="734.5" y="439.6" font-size="17.6" text-anchor="start">N (+)</text>
<path d="M606.9 480.8C606.91 483.17 606.56 490.75 606.95 495C607.34 499.25 608.62 502.87 609.22 506.3C609.82 509.73 610.51 512.5 610.55 515.6C610.59 518.7 609.73 522.1 609.46 524.9C609.18 527.7 608.66 529.92 608.9 532.4C609.14 534.88 610.4 537.32 610.9 539.8C611.4 542.28 611.36 544.82 611.88 547.3C612.4 549.78 613.37 552.22 614 554.7C614.63 557.18 615.15 560.02 615.69 562.2C616.23 564.38 616.35 565.93 617.22 567.8C618.09 569.67 619.83 571.55 620.89 573.4C621.95 575.25 622.78 577.05 623.58 578.9C624.38 580.75 625.41 582.63 625.7 584.5C625.99 586.37 625.33 588.18 625.3 590.1C625.26 592.02 625.23 594.35 625.49 596C625.75 597.65 625.5 598.23 626.88 600C628.26 601.77 631.1 604.4 633.79 606.6C636.48 608.8 640.3 611.45 643.02 613.2C645.74 614.95 646.9 615.57 650.09 617.1C653.28 618.63 658.12 620.53 662.17 622.4C666.22 624.27 671.36 626.55 674.39 628.3C677.42 630.05 679.07 631.85 680.34 632.9C681.61 633.95 681.63 634.05 681.99 634.6C682.35 635.15 682.48 635.67 682.5 636.2C682.52 636.73 682.65 637.03 682.09 637.8C681.52 638.57 680.2 639.75 679.11 640.8C678.02 641.85 678.39 641.8 675.56 644.1C672.72 646.4 666.55 651.32 662.1 654.6C657.65 657.88 653.16 660.95 648.88 663.8C644.6 666.65 640.68 668.95 636.42 671.7C632.16 674.45 626.76 677.88 623.3 680.3C619.84 682.72 617.82 684.23 615.67 686.2C613.51 688.17 611.73 690.23 610.37 692.1C609.01 693.97 608.08 695.17 607.5 697.4C606.92 699.63 607 704.15 606.9 705.5C606.8 704.15 606.88 699.63 606.3 697.4C605.72 695.17 604.79 693.97 603.43 692.1C602.07 690.23 600.28 688.17 598.13 686.2C595.98 684.23 593.96 682.72 590.5 680.3C587.04 677.88 581.64 674.45 577.38 671.7C573.12 668.95 569.2 666.65 564.92 663.8C560.64 660.95 556.15 657.88 551.7 654.6C547.25 651.32 541.08 646.4 538.24 644.1C535.4 641.8 535.78 641.85 534.69 640.8C533.6 639.75 532.28 638.57 531.71 637.8C531.15 637.03 531.28 636.73 531.3 636.2C531.32 635.67 531.45 635.15 531.81 634.6C532.17 634.05 532.19 633.95 533.46 632.9C534.73 631.85 536.38 630.05 539.41 628.3C542.44 626.55 547.58 624.27 551.63 622.4C555.68 620.53 560.52 618.63 563.71 617.1C566.9 615.57 568.06 614.95 570.78 613.2C573.5 611.45 577.32 608.8 580.01 606.6C582.7 604.4 585.54 601.77 586.92 600C588.3 598.23 588.05 597.65 588.31 596C588.57 594.35 588.53 592.02 588.5 590.1C588.47 588.18 587.81 586.37 588.1 584.5C588.39 582.63 589.42 580.75 590.22 578.9C591.02 577.05 591.85 575.25 592.91 573.4C593.97 571.55 595.71 569.67 596.58 567.8C597.45 565.93 597.57 564.38 598.11 562.2C598.65 560.02 599.16 557.18 599.8 554.7C600.43 552.22 601.4 549.78 601.92 547.3C602.44 544.82 602.4 542.28 602.9 539.8C603.4 537.32 604.66 534.88 604.9 532.4C605.14 529.92 604.62 527.7 604.34 524.9C604.07 522.1 603.21 518.7 603.25 515.6C603.29 512.5 603.98 509.73 604.58 506.3C605.18 502.87 606.46 499.25 606.85 495C607.24 490.75 606.89 483.17 606.9 480.8Z" fill="#0000fa" stroke="#000" stroke-width="1.75" stroke-linejoin="round"/>
<line x1="606.9" y1="558" x2="606.9" y2="683" stroke="#000" stroke-width="1.75"/>
<line x1="606.9" y1="503" x2="606.9" y2="529" stroke="#000" stroke-width="5.2" stroke-linecap="round"/>
<line x1="606.9" y1="543" x2="606.9" y2="556" stroke="#000" stroke-width="5.6" stroke-linecap="round"/>
<rect x="591.2" y="614.4" width="31.3" height="36.5" fill="#fff" stroke="#000" stroke-width="1.75"/>
<line x1="591.2" y1="634" x2="622.5" y2="634" stroke="#000" stroke-width="3.3"/>
<path d="M764.3 485.7C764.31 489.75 764.34 501.78 764.35 510C764.36 518.22 764.08 530.03 764.35 535C764.62 539.97 765.37 536.82 765.98 539.8C766.59 542.78 767.48 549.48 767.99 552.9C768.5 556.32 768.62 558.13 769.02 560.3C769.42 562.47 769.84 564.03 770.37 565.9C770.9 567.77 771.54 569.63 772.19 571.5C772.84 573.37 773.56 575.23 774.26 577.1C774.96 578.97 775.63 580.85 776.37 582.7C777.11 584.55 777.96 586.65 778.68 588.2C779.4 589.75 779.85 590.7 780.67 592C781.49 593.3 782.43 594.67 783.59 596C784.75 597.33 785.86 598.45 787.62 600C789.38 601.55 790.89 602.78 794.14 605.3C797.39 607.82 803.23 612.15 807.11 615.1C810.98 618.05 814.04 620.37 817.39 623C820.74 625.63 824.58 628.82 827.22 630.9C829.86 632.98 831.23 633.85 833.22 635.5C835.21 637.15 837.53 639.2 839.16 640.8C840.79 642.4 842.31 644.12 843 645.1C843.69 646.08 843.29 646.17 843.3 646.7C843.31 647.23 843.76 647.2 843.05 648.3C842.34 649.4 840.81 651.58 839.04 653.3C837.27 655.02 835.7 656.63 832.41 658.6C829.12 660.57 823.5 663.25 819.29 665.1C815.07 666.95 811.27 668.17 807.12 669.7C802.97 671.23 798.64 672.65 794.39 674.3C790.14 675.95 785.12 677.95 781.64 679.6C778.16 681.25 775.7 682.67 773.49 684.2C771.28 685.73 769.78 687.15 768.37 688.8C766.96 690.45 765.68 691.92 765 694.1C764.32 696.28 764.42 700.6 764.3 701.9C764.18 700.6 764.28 696.28 763.6 694.1C762.92 691.92 761.64 690.45 760.23 688.8C758.81 687.15 757.32 685.73 755.11 684.2C752.9 682.67 750.44 681.25 746.96 679.6C743.48 677.95 738.46 675.95 734.21 674.3C729.96 672.65 725.63 671.23 721.48 669.7C717.33 668.17 713.52 666.95 709.31 665.1C705.09 663.25 699.48 660.57 696.19 658.6C692.9 656.63 691.33 655.02 689.56 653.3C687.79 651.58 686.26 649.4 685.55 648.3C684.84 647.2 685.29 647.23 685.3 646.7C685.31 646.17 684.91 646.08 685.6 645.1C686.29 644.12 687.81 642.4 689.44 640.8C691.07 639.2 693.39 637.15 695.38 635.5C697.37 633.85 698.74 632.98 701.38 630.9C704.02 628.82 707.86 625.63 711.21 623C714.56 620.37 717.62 618.05 721.49 615.1C725.37 612.15 731.21 607.82 734.46 605.3C737.71 602.78 739.22 601.55 740.98 600C742.74 598.45 743.85 597.33 745.01 596C746.17 594.67 747.11 593.3 747.93 592C748.75 590.7 749.2 589.75 749.92 588.2C750.64 586.65 751.49 584.55 752.23 582.7C752.97 580.85 753.64 578.97 754.34 577.1C755.04 575.23 755.76 573.37 756.41 571.5C757.06 569.63 757.7 567.77 758.23 565.9C758.76 564.03 759.18 562.47 759.58 560.3C759.98 558.13 760.1 556.32 760.61 552.9C761.12 549.48 762.01 542.78 762.62 539.8C763.23 536.82 763.98 539.97 764.25 535C764.52 530.03 764.24 518.22 764.25 510C764.26 501.78 764.29 489.75 764.3 485.7Z" fill="#db0000" stroke="#000" stroke-width="1.75" stroke-linejoin="round"/>
<line x1="764.3" y1="568" x2="764.3" y2="681.5" stroke="#000" stroke-width="1.75"/>
<circle cx="764.3" cy="505.5" r="3.05" fill="#000"/>
<circle cx="764.3" cy="517" r="3.05" fill="#000"/>
<circle cx="764.3" cy="568" r="3.05" fill="#000"/>
<line x1="764.3" y1="539" x2="764.3" y2="560" stroke="#000" stroke-width="6" stroke-linecap="round"/>
<rect x="748.3" y="620.5" width="31.6" height="34.3" fill="#fff" stroke="#000" stroke-width="1.75"/>
<line x1="748.3" y1="639.7" x2="779.9" y2="639.7" stroke="#000" stroke-width="3.3"/>
<line x1="606.9" y1="493.8" x2="764.3" y2="493.8" stroke="#000" stroke-width="1.75"/>
<text x="688.5" y="488.1" font-size="21.2" text-anchor="middle">0.00073</text>
<path d="M512.6 470V716.6H857.5" fill="none" stroke="#000" stroke-width="1.7" stroke-linejoin="miter"/>
<line x1="509.4" y1="538.8" x2="512.6" y2="538.8" stroke="#000" stroke-width="3.0"/>
<text x="497" y="542.8" font-size="21.4" text-anchor="middle">10</text>
<line x1="509.4" y1="618.4" x2="512.6" y2="618.4" stroke="#000" stroke-width="3.0"/>
<text x="497" y="622.4" font-size="21.4" text-anchor="middle">5</text>
<line x1="509.4" y1="698.4" x2="512.6" y2="698.4" stroke="#000" stroke-width="3.0"/>
<text x="497" y="702.4" font-size="21.4" text-anchor="middle">0</text>
<line x1="606.9" y1="716.6" x2="606.9" y2="719.8" stroke="#000" stroke-width="3.3"/>
<text x="610" y="739.6" font-size="21.8" text-anchor="middle">N (-)</text>
<line x1="764.3" y1="716.6" x2="764.3" y2="719.8" stroke="#000" stroke-width="3.3"/>
<text x="769.5" y="739.6" font-size="21.8" text-anchor="middle">N (+)</text>
<text x="691.7" y="751.9" font-size="21.4" text-anchor="middle">Type</text>
<text transform="translate(473.3 585) rotate(-90)" font-size="21.8" text-anchor="middle">S1PR2</text>
</g>
<g>
<text x="903.9" y="445.5" font-size="51" text-anchor="start" style="stroke-width:0">G</text>
<text x="1044.7" y="436.7" font-size="17" text-anchor="start">Type</text>
<rect x="1093.8" y="424.55" width="15.9" height="15.9" fill="#0000fa" stroke="#000" stroke-width="1.9"/>
<text x="1115.7" y="439.1" font-size="17.6" text-anchor="start">N (−)</text>
<rect x="1169.5" y="424.55" width="15.9" height="15.9" fill="#db0000" stroke="#000" stroke-width="1.9"/>
<text x="1191.4" y="439.1" font-size="17.6" text-anchor="start">N (+)</text>
<path d="M1064.3 479.8C1064.31 483.17 1064.34 491.63 1064.35 500C1064.36 508.37 1063.98 523.68 1064.35 530C1064.72 536.32 1065.74 535.03 1066.55 537.9C1067.36 540.77 1068.49 544.4 1069.21 547.2C1069.93 550 1070.48 552.22 1070.9 554.7C1071.31 557.18 1071.65 559.62 1071.7 562.1C1071.75 564.58 1071.13 567.12 1071.2 569.6C1071.27 572.08 1071.83 574.52 1072.12 577C1072.41 579.48 1072.66 582.02 1072.95 584.5C1073.24 586.98 1073.43 589.73 1073.87 591.9C1074.31 594.07 1074.93 595.63 1075.61 597.5C1076.28 599.37 1077 601.02 1077.92 603.1C1078.83 605.18 1079.75 607.75 1081.1 610C1082.45 612.25 1083.83 614.18 1086.01 616.6C1088.19 619.02 1091.21 621.87 1094.17 624.5C1097.13 627.13 1101.11 630.1 1103.79 632.4C1106.47 634.7 1108.08 636 1110.28 638.3C1112.48 640.6 1114.8 643.23 1116.97 646.2C1119.14 649.17 1121.72 653.42 1123.33 656.1C1124.94 658.78 1126.08 661 1126.65 662.3C1127.23 663.6 1126.84 663.37 1126.8 663.9C1126.76 664.43 1127.1 664.62 1126.43 665.5C1125.77 666.38 1124.56 667.92 1122.79 669.2C1121.02 670.48 1118.89 671.88 1115.79 673.2C1112.69 674.52 1108.27 675.78 1104.2 677.1C1100.13 678.42 1095.58 679.67 1091.38 681.1C1087.17 682.53 1082.38 684.17 1078.97 685.7C1075.56 687.23 1072.96 688.67 1070.94 690.3C1068.92 691.93 1067.94 693.1 1066.83 695.5C1065.72 697.9 1064.72 703.17 1064.3 704.7C1063.88 703.17 1062.88 697.9 1061.77 695.5C1060.66 693.1 1059.68 691.93 1057.66 690.3C1055.64 688.67 1053.04 687.23 1049.63 685.7C1046.22 684.17 1041.42 682.53 1037.22 681.1C1033.02 679.67 1028.47 678.42 1024.4 677.1C1020.33 675.78 1015.91 674.52 1012.81 673.2C1009.71 671.88 1007.58 670.48 1005.81 669.2C1004.04 667.92 1002.83 666.38 1002.17 665.5C1001.5 664.62 1001.84 664.43 1001.8 663.9C1001.76 663.37 1001.37 663.6 1001.95 662.3C1002.52 661 1003.66 658.78 1005.27 656.1C1006.88 653.42 1009.46 649.17 1011.63 646.2C1013.8 643.23 1016.12 640.6 1018.32 638.3C1020.52 636 1022.12 634.7 1024.81 632.4C1027.49 630.1 1031.47 627.13 1034.43 624.5C1037.39 621.87 1040.41 619.02 1042.59 616.6C1044.77 614.18 1046.15 612.25 1047.5 610C1048.85 607.75 1049.77 605.18 1050.68 603.1C1051.6 601.02 1052.32 599.37 1052.99 597.5C1053.66 595.63 1054.29 594.07 1054.73 591.9C1055.17 589.73 1055.36 586.98 1055.65 584.5C1055.94 582.02 1056.19 579.48 1056.48 577C1056.77 574.52 1057.33 572.08 1057.4 569.6C1057.47 567.12 1056.85 564.58 1056.9 562.1C1056.95 559.62 1057.29 557.18 1057.7 554.7C1058.12 552.22 1058.66 550 1059.39 547.2C1060.11 544.4 1061.24 540.77 1062.05 537.9C1062.86 535.03 1063.88 536.32 1064.25 530C1064.62 523.68 1064.24 508.37 1064.25 500C1064.26 491.63 1064.29 483.17 1064.3 479.8Z" fill="#0000fa" stroke="#000" stroke-width="1.75" stroke-linejoin="round"/>
<line x1="1064.3" y1="571" x2="1064.3" y2="682.4" stroke="#000" stroke-width="1.75"/>
<circle cx="1064.3" cy="530" r="3.05" fill="#000"/>
<circle cx="1064.3" cy="533.4" r="3.05" fill="#000"/>
<line x1="1064.3" y1="503" x2="1064.3" y2="508" stroke="#000" stroke-width="6" stroke-linecap="round"/>
<line x1="1064.3" y1="544" x2="1064.3" y2="568" stroke="#000" stroke-width="6.5" stroke-linecap="round"/>
<rect x="1048.8" y="627.5" width="31.2" height="36.8" fill="#fff" stroke="#000" stroke-width="1.75"/>
<line x1="1048.8" y1="648.2" x2="1080" y2="648.2" stroke="#000" stroke-width="3.3"/>
<path d="M1221.5 485C1221.51 489.17 1221.54 501.67 1221.55 510C1221.56 518.33 1221.13 528.8 1221.55 535C1221.97 541.2 1223.4 543.6 1224.05 547.2C1224.7 550.8 1225.01 553.48 1225.45 556.6C1225.89 559.72 1226.28 562.8 1226.7 565.9C1227.12 569 1227.55 572.1 1227.96 575.2C1228.37 578.3 1228.71 581.4 1229.14 584.5C1229.57 587.6 1229.99 590.7 1230.53 593.8C1231.07 596.9 1231.67 600.4 1232.35 603.1C1233.03 605.8 1233.4 607.53 1234.61 610C1235.82 612.47 1237.75 615.38 1239.61 617.9C1241.47 620.42 1243.62 622.68 1245.78 625.1C1247.94 627.52 1250.24 630.1 1252.55 632.4C1254.86 634.7 1257.35 637.15 1259.61 638.9C1261.87 640.65 1262.89 641.25 1266.12 642.9C1269.35 644.55 1274.84 646.93 1278.99 648.8C1283.14 650.67 1287.94 652.57 1291.03 654.1C1294.12 655.63 1296.1 657.07 1297.55 658C1299 658.93 1299.26 659.15 1299.73 659.7C1300.21 660.25 1300.37 660.77 1300.4 661.3C1300.43 661.83 1300.59 662.13 1299.89 662.9C1299.18 663.67 1297.63 664.95 1296.17 665.9C1294.71 666.85 1294.23 667.38 1291.14 668.6C1288.05 669.82 1281.9 671.9 1277.64 673.2C1273.38 674.5 1269.66 675.32 1265.61 676.4C1261.56 677.48 1257.59 678.38 1253.33 679.7C1249.07 681.02 1243.62 682.87 1240.04 684.3C1236.46 685.73 1234.07 686.98 1231.86 688.3C1229.65 689.62 1228.23 690.67 1226.8 692.2C1225.37 693.73 1224.17 695.63 1223.29 697.5C1222.41 699.37 1221.8 702.42 1221.5 703.4C1221.2 702.42 1220.59 699.37 1219.71 697.5C1218.83 695.63 1217.63 693.73 1216.2 692.2C1214.77 690.67 1213.35 689.62 1211.14 688.3C1208.93 686.98 1206.54 685.73 1202.96 684.3C1199.38 682.87 1193.93 681.02 1189.67 679.7C1185.41 678.38 1181.44 677.48 1177.39 676.4C1173.34 675.32 1169.62 674.5 1165.36 673.2C1161.1 671.9 1154.95 669.82 1151.86 668.6C1148.77 667.38 1148.29 666.85 1146.83 665.9C1145.37 664.95 1143.82 663.67 1143.11 662.9C1142.41 662.13 1142.57 661.83 1142.6 661.3C1142.63 660.77 1142.79 660.25 1143.27 659.7C1143.74 659.15 1144 658.93 1145.45 658C1146.9 657.07 1148.88 655.63 1151.97 654.1C1155.06 652.57 1159.86 650.67 1164.01 648.8C1168.16 646.93 1173.65 644.55 1176.88 642.9C1180.11 641.25 1181.13 640.65 1183.39 638.9C1185.65 637.15 1188.14 634.7 1190.45 632.4C1192.76 630.1 1195.06 627.52 1197.22 625.1C1199.38 622.68 1201.53 620.42 1203.39 617.9C1205.25 615.38 1207.18 612.47 1208.39 610C1209.6 607.53 1209.97 605.8 1210.65 603.1C1211.33 600.4 1211.93 596.9 1212.47 593.8C1213.01 590.7 1213.43 587.6 1213.86 584.5C1214.29 581.4 1214.63 578.3 1215.04 575.2C1215.45 572.1 1215.88 569 1216.3 565.9C1216.72 562.8 1217.11 559.72 1217.55 556.6C1217.99 553.48 1218.3 550.8 1218.95 547.2C1219.6 543.6 1221.03 541.2 1221.45 535C1221.87 528.8 1221.44 518.33 1221.45 510C1221.46 501.67 1221.49 489.17 1221.5 485Z" fill="#db0000" stroke="#000" stroke-width="1.75" stroke-linejoin="round"/>
<line x1="1221.5" y1="584" x2="1221.5" y2="683.8" stroke="#000" stroke-width="1.75"/>
<circle cx="1221.5" cy="502.8" r="3.05" fill="#000"/>
<circle cx="1221.5" cy="521.2" r="3.05" fill="#000"/>
<line x1="1221.5" y1="528" x2="1221.5" y2="545" stroke="#000" stroke-width="3.6" stroke-linecap="round"/>
<line x1="1221.5" y1="545" x2="1221.5" y2="583" stroke="#000" stroke-width="5.8" stroke-linecap="round"/>
<rect x="1205.9" y="633.7" width="31.4" height="31.5" fill="#fff" stroke="#000" stroke-width="1.75"/>
<line x1="1205.9" y1="654.2" x2="1237.3" y2="654.2" stroke="#000" stroke-width="3.3"/>
<line x1="1064.3" y1="495.7" x2="1221.5" y2="495.7" stroke="#000" stroke-width="1.75"/>
<text x="1140" y="490.6" font-size="21.2" text-anchor="middle">0.00077</text>
<path d="M969.7 469V715.5H1316" fill="none" stroke="#000" stroke-width="1.7" stroke-linejoin="miter"/>
<line x1="966.5" y1="505.9" x2="969.7" y2="505.9" stroke="#000" stroke-width="3.0"/>
<text x="950.2" y="513.5" font-size="21.4" text-anchor="middle">30</text>
<line x1="966.5" y1="568.7" x2="969.7" y2="568.7" stroke="#000" stroke-width="3.0"/>
<text x="950.2" y="576.3" font-size="21.4" text-anchor="middle">20</text>
<line x1="966.5" y1="631.2" x2="969.7" y2="631.2" stroke="#000" stroke-width="3.0"/>
<text x="950.2" y="638.8" font-size="21.4" text-anchor="middle">10</text>
<line x1="966.5" y1="693.6" x2="969.7" y2="693.6" stroke="#000" stroke-width="3.0"/>
<text x="950.2" y="701.2" font-size="21.4" text-anchor="middle">0</text>
<line x1="1064.3" y1="715.5" x2="1064.3" y2="718.7" stroke="#000" stroke-width="3.3"/>
<text x="1066.7" y="738.7" font-size="21.8" text-anchor="middle">N (-)</text>
<line x1="1221.5" y1="715.5" x2="1221.5" y2="718.7" stroke="#000" stroke-width="3.3"/>
<text x="1226" y="738.7" font-size="21.8" text-anchor="middle">N (+)</text>
<text x="1148.4" y="751" font-size="21.4" text-anchor="middle">Type</text>
<text transform="translate(922.1 585) rotate(-90)" font-size="21.8" text-anchor="middle">VEGFA</text>
</g>
</svg>
</body>
</html>
